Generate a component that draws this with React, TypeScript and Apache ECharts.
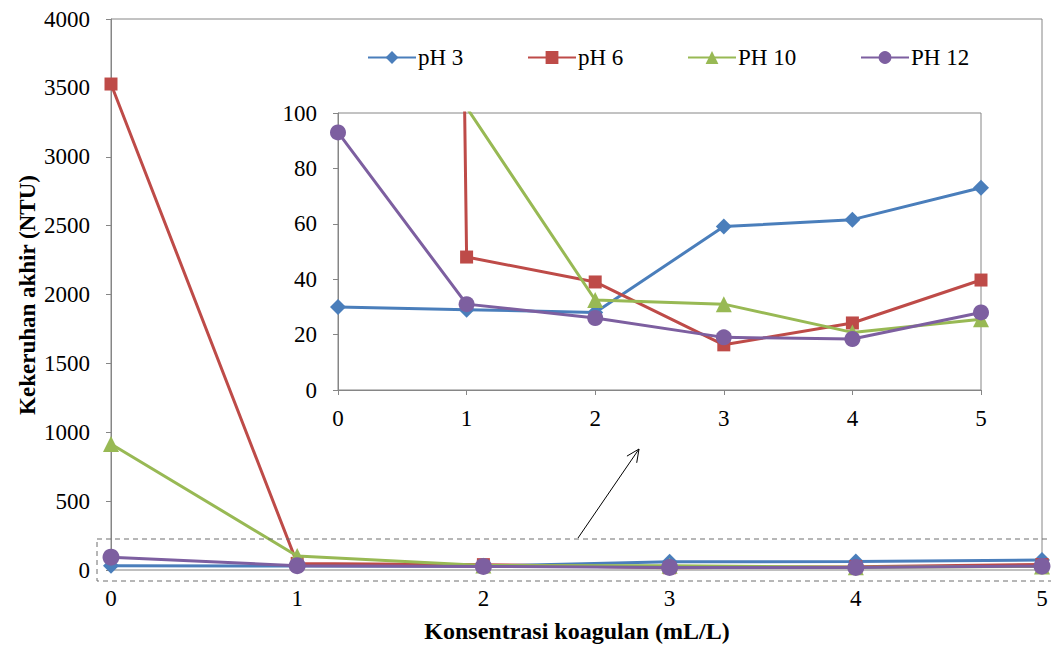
import React, { useEffect, useRef } from "react";
import * as echarts from "echarts";

const xValues = [0, 1, 2, 3, 4, 5];
const seriesNames = ["pH 3", "pH 6", "PH 10", "PH 12"];
const pH3 = [30, 29, 28, 59, 61.5, 73];
const pH6 = [3528, 48, 39, 16.3, 24.2, 39.7];
const pH10 = [915, 102, 32.5, 31, 20.8, 25.5];
const pH12 = [93, 31, 26, 19, 18.4, 28];
const mainYTicks = { min: 0, max: 4000, interval: 500 };
const insetYTicks = { min: 0, max: 100, interval: 20 };

const allValues = [pH3, pH6, pH10, pH12];
const colors = ["#4A7EBB", "#BE4B48", "#98B954", "#7D5FA0"];
const symbols = ["diamond", "rect", "triangle", "circle"];
const mainSizes = [16, 13, 16, 17];
const insetSizes = [16, 13, 16, 16];
const legendLefts = [367, 527, 687, 860];

const FONT = "Liberation Serif";

export default function App() {
  const ref = useRef<HTMLDivElement>(null);
  useEffect(() => {
    if (!ref.current) return;
    const chart = echarts.init(ref.current, undefined, { renderer: "svg" });

    const mkSeries = (axisIdx: number, sizes: number[]) =>
      seriesNames.map((name, k) => ({
        name,
        type: "line",
        xAxisIndex: axisIdx,
        yAxisIndex: axisIdx,
        data: xValues.map((x, i) => [x, allValues[k][i]]),
        symbol: symbols[k],
        symbolSize: sizes[k],
        clip: true,
        z: 3 + k,
        lineStyle: { color: colors[k], width: 3 },
        itemStyle: { color: colors[k] },
      }));

    const sx = 578, sy = 538, tx = 639, ty = 449;
    const len = Math.hypot(tx - sx, ty - sy);
    const bx = (sx - tx) / len, by = (sy - ty) / len;
    const a = (25 * Math.PI) / 180, c = Math.cos(a), s = Math.sin(a), L = 14;
    const w1 = [tx + L * (bx * c - by * s), ty + L * (bx * s + by * c)];
    const w2 = [tx + L * (bx * c + by * s), ty + L * (-bx * s + by * c)];

    const axisLabelStyle = {
      color: "#000",
      fontSize: 23,
      fontFamily: FONT,
      formatter: (v: number) => String(v),
    };

    chart.setOption({
      animation: false,
      backgroundColor: "#fff",
      textStyle: { fontFamily: FONT },
      grid: [
        { left: 111, top: 19, width: 931, height: 551, show: true, borderColor: "#868686", borderWidth: 1, backgroundColor: "transparent" },
        { left: 338, top: 113, width: 643, height: 277, show: true, borderColor: "#868686", borderWidth: 1, backgroundColor: "#fff" },
      ],
      legend: seriesNames.map((name, k) => ({
        data: [name],
        left: legendLefts[k],
        top: 46,
        padding: 0,
        itemWidth: 48,
        itemHeight: 16,
        textStyle: { color: "#000", fontSize: 23, fontFamily: FONT, padding: [0, 0, 0, -3] },
      })),
      xAxis: [
        {
          type: "value", gridIndex: 0, min: 0, max: 5, interval: 1,
          axisLine: { lineStyle: { color: "#bfbfbf", width: 2 } },
          axisTick: { show: false },
          splitLine: { show: false },
          axisLabel: { ...axisLabelStyle, margin: 17 },
        },
        {
          type: "value", gridIndex: 1, min: 0, max: 5, interval: 1,
          axisLine: { lineStyle: { color: "#868686", width: 1 } },
          axisTick: { show: true, inside: false, length: 5, lineStyle: { color: "#868686" } },
          splitLine: { show: false },
          axisLabel: { ...axisLabelStyle, margin: 17 },
        },
      ],
      yAxis: [
        {
          type: "value", gridIndex: 0, ...mainYTicks,
          axisLine: { show: true, lineStyle: { color: "#868686", width: 1 } },
          axisTick: { show: true, inside: false, length: 5, lineStyle: { color: "#868686" } },
          splitLine: { show: false },
          axisLabel: { ...axisLabelStyle, margin: 21 },
        },
        {
          type: "value", gridIndex: 1, ...insetYTicks,
          axisLine: { show: true, lineStyle: { color: "#868686", width: 1 } },
          axisTick: { show: true, inside: false, length: 5, lineStyle: { color: "#868686" } },
          splitLine: { show: false },
          axisLabel: { ...axisLabelStyle, margin: 21 },
        },
      ],
      series: [...mkSeries(0, mainSizes), ...mkSeries(1, insetSizes)],
      graphic: [
        {
          type: "rect", z: 100,
          shape: { x: 97, y: 539, width: 970, height: 42 },
          style: { fill: "none", stroke: "#6e6e6e", lineWidth: 1, lineDash: [5, 4] },
          silent: true,
        },
        {
          type: "line", z: 100,
          shape: { x1: sx, y1: sy, x2: tx, y2: ty },
          style: { stroke: "#000", lineWidth: 1 },
        },
        {
          type: "polyline", z: 100,
          shape: { points: [w1, [tx, ty], w2] },
          style: { stroke: "#000", lineWidth: 1, fill: "none" },
        },
        {
          type: "text", z: 100,
          x: 577, y: 631,
          style: { text: "Konsentrasi koagulan (mL/L)", fontSize: 24, fontWeight: "bold", fontFamily: FONT, fill: "#000", align: "center", verticalAlign: "middle" },
        },
        {
          type: "text", z: 100,
          x: 27, y: 295, rotation: Math.PI / 2,
          style: { text: "Kekeruhan akhir (NTU)", fontSize: 23, fontWeight: "bold", fontFamily: FONT, fill: "#000", align: "center", verticalAlign: "middle" },
        },
      ],
    });
    return () => chart.dispose();
  }, []);
  return <div ref={ref} style={{ width: 1051, height: 646, position: "absolute", left: 0, top: 0 }} />;
}
